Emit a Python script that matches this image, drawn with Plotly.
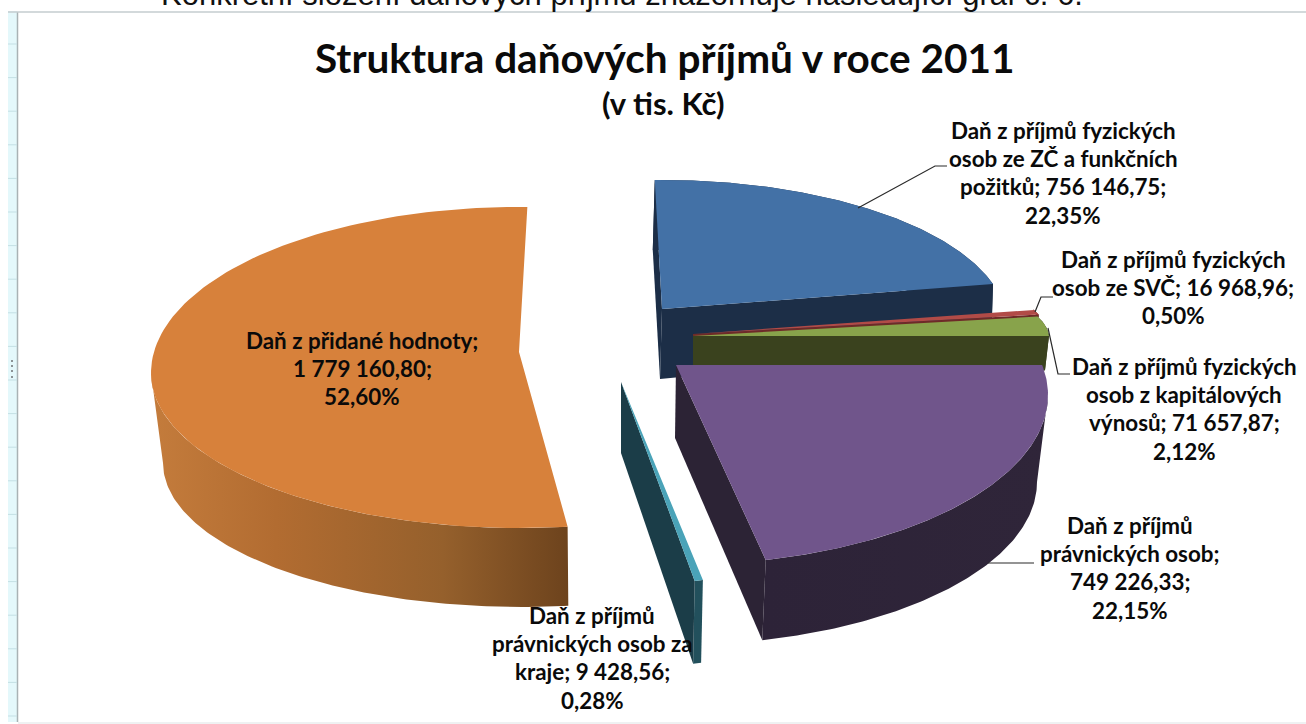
import numpy as np
import plotly.graph_objects as go

# ---- data ----
names = ["Daň z příjmů fyzických osob ze ZČ a funkčních požitků",
         "Daň z příjmů fyzických osob ze SVČ",
         "Daň z příjmů fyzických osob z kapitálových výnosů",
         "Daň z příjmů právnických osob",
         "Daň z příjmů právnických osob za kraje",
         "Daň z přidané hodnoty"]
values = [756146.75, 16968.96, 71657.87, 749226.33, 9428.56, 1779160.80]
value_labels = ["756 146,75", "16 968,96", "71 657,87", "749 226,33", "9 428,56", "1 779 160,80"]
percent_labels = ["22,35%", "0,50%", "2,12%", "22,15%", "0,28%", "52,60%"]

title_text = "Struktura daňových příjmů v roce 2011"
subtitle_text = "(v tis. Kč)"
page_text = "Konkrétní složení daňových příjmů znázorňuje následující graf č. 6."

label_lines = [
    ["Daň z příjmů fyzických", "osob ze ZČ a funkčních", "požitků; 756 146,75;", "22,35%"],
    ["Daň z příjmů fyzických", "osob ze SVČ; 16 968,96;", "0,50%"],
    ["Daň z příjmů fyzických", "osob z kapitálových", "výnosů; 71 657,87;", "2,12%"],
    ["Daň z příjmů", "právnických osob;", "749 226,33;", "22,15%"],
    ["Daň z příjmů", "právnických osob za", "kraje; 9 428,56;", "0,28%"],
    ["Daň z přidané hodnoty;", "1 779 160,80;", "52,60%"],
]

# ---- layout of the exploded, tilted pie (pixels of the picture) ----
label_xy = [(1063, 130), (1173, 259), (1184, 366), (1130, 525), (592, 615), (362, 340)]
# top ellipse: apex x,y, centre y, rx, ry (near side), ry (far side)
top_geo = [(662, 309, 325, 345, 145, 145), (693, 334, 334, 354, 90, 90), (693, 336, 337.4, 356, 83, 83),
           (676, 365, 395, 372, 170, 170), (621, 382, 382, 370, 203, 203), (519, 352, 373, 368, 155, 166)]
# bottom ellipse: apex x,y, centre y, rx, ry
bot_geo = [(660, 379, 385, 345, 135), (693, 337, 337, 354, 90), (693, 372, 372, 352, 83),
           (675, 438, 482, 362, 163), (621, 453, 453, 362, 215), (521, 463, 463, 358, 144)]
# projected start/end corrections of the angle (degrees)
angle_adj = [(-1.2, -6.86), (-6.46, -4.76), (-7.26, -0.89), (-10.1, -3.6), (-2.43, -2.14), (1.76, 1.3)]
# projected angle range in which the outer wall is visible (None = whole arc)
wall_start = [None, None, None, 90, None, None]
wall_end = [None, None, None, None, None, 270]
top_col = ["#4371a6", "#b14b47", "#88a34b", "#70558b", "#4aa3b8", "#d7813b"]
cut_col = ["#1c2e47", "#6e2a28", "#3a421e", "#2c2335", "#1b3d48", "#d7813b"]
wall_grad = [None, None, None, [[0, "#2d2338"], [1, "#2f2539"]], None,
             [[0, "#c47c3c"], [0.3, "#b26c31"], [0.7, "#95602c"], [1, "#6d431d"]]]
wall_col = ["#1c2e47", "#6e2a28", "#3a421e", "#34293f", "#22505c", "#b06a30"]
cut_t0_visible = [True, False, False, False, False, False]
draw_order = [5, 0, 1, 2, 4, 3]

total = sum(values)
edges = np.concatenate([[0], np.cumsum(values)]) / total * 360

fig = go.Figure()


def top_pt(i, t):
    ax, ay, yc, rx, ryn, ryf = top_geo[i]
    c = np.cos(np.radians(t))
    return ax + rx * np.sin(np.radians(t)), yc - np.where(c > 0, ryf, ryn) * c


def bot_pt(i, t):
    ax, ay, yc, rx, ry = bot_geo[i]
    return ax + rx * np.sin(np.radians(t)), yc - ry * np.cos(np.radians(t))


def poly(xs, ys, color=None, grad=None, lo=0, hi=1):
    kw = dict(x=list(xs), y=list(ys), mode="lines", fill="toself", line=dict(width=0),
              hoverinfo="skip", showlegend=False)
    if grad:
        kw["fillgradient"] = dict(type="horizontal", colorscale=grad, start=lo, stop=hi)
    else:
        kw["fillcolor"] = color
    fig.add_trace(go.Scatter(**kw))


for i in draw_order:
    t0 = edges[i] + angle_adj[i][0]
    t1 = edges[i + 1] + angle_adj[i][1]
    ts = np.linspace(t0, t1, 120)
    xt, yt = top_pt(i, ts)
    xb, yb = bot_pt(i, ts)
    ax, ay = top_geo[i][:2]
    bx, by = bot_geo[i][:2]
    # outer wall
    tw = np.linspace(wall_start[i] if wall_start[i] else t0, wall_end[i] if wall_end[i] else t1, 120)
    xwt, ywt = top_pt(i, tw)
    xwb, ywb = bot_pt(i, tw)
    wx = np.concatenate([xwt, xwb[::-1]])
    wy = np.concatenate([ywt, ywb[::-1]])
    poly(wx, wy, wall_col[i], wall_grad[i], float(wx.min()), float(wx.max()))
    # cut faces
    if cut_t0_visible[i]:
        poly([xt[0], ax, bx, xb[0]], [yt[0], ay, by, yb[0]], cut_col[i])
    if i != 5:
        poly([ax, xt[-1], xb[-1], bx], [ay, yt[-1], yb[-1], by], cut_col[i])
    # top face
    poly(np.concatenate([[ax], xt]), np.concatenate([[ay], yt]), top_col[i])

# leader lines
leaders = [([858, 935, 947], [208, 166, 166]), ([1035, 1041, 1053], [312, 297, 297]),
           ([1048, 1058, 1070], [328, 374, 374]), ([988, 1034], [563, 563])]
for lx, ly in leaders:
    fig.add_trace(go.Scatter(x=lx, y=ly, mode="lines", line=dict(color="#2a2a2a", width=1.2),
                             hoverinfo="skip", showlegend=False))

annotations = []
LABEL = dict(family="Lato", size=22.4, color="#0a0a0a", weight="bold")
for (cx, y0), lines in zip(label_xy, label_lines):
    for k, ln in enumerate(lines):
        annotations.append(dict(x=cx, y=y0 + k * 28.4, text=ln, showarrow=False, xanchor="center",
                                yanchor="middle", font=LABEL))
annotations.append(dict(x=664, y=57, text=title_text, showarrow=False, xanchor="center", yanchor="middle",
                        font=dict(family="Lato", size=40.5, color="#0a0a0a", weight="bold")))
annotations.append(dict(x=663, y=103, text=subtitle_text, showarrow=False, xanchor="center", yanchor="middle",
                        font=dict(family="Lato", size=31, color="#0a0a0a", weight="bold")))
annotations.append(dict(x=622, y=13, text=page_text, showarrow=False, xanchor="center", yanchor="bottom",
                        borderpad=0, font=dict(family="Liberation Sans", size=31, color="#111111")))

# window frame
shapes = [
    dict(type="rect", x0=8, x1=17, y0=11, y1=722, fillcolor="#e4f8fb", line=dict(width=0), layer="below"),
    dict(type="line", x0=17.5, x1=17.5, y0=12, y1=722, line=dict(color="#a9b2b5", width=1.5), layer="below"),
    dict(type="line", x0=8, x1=1306, y0=12, y1=12, line=dict(color="#c4cccf", width=1.5), layer="below"),
    dict(type="line", x0=18, x1=1306, y0=723, y1=723, line=dict(color="#dfe3e5", width=1), layer="below"),
]
for yy in np.arange(44, 722, 33.6):
    shapes.append(dict(type="line", x0=8, x1=17, y0=yy, y1=yy, line=dict(color="#c4dfe4", width=1), layer="below"))
for yy in (360, 365, 370, 376):
    shapes.append(dict(type="rect", x0=11, x1=13, y0=yy, y1=yy + 2, fillcolor="#8c9396", line=dict(width=0), layer="below"))

fig.update_layout(
    width=1306, height=724, margin=dict(l=0, r=0, t=0, b=0),
    paper_bgcolor="white", plot_bgcolor="white", showlegend=False,
    xaxis=dict(range=[0, 1306], visible=False, fixedrange=True),
    yaxis=dict(range=[724, 0], visible=False, fixedrange=True),
    annotations=annotations, shapes=shapes,
)
fig.write_html("out.html", config=dict(displayModeBar=False),
               post_script="document.body.style.margin='0';document.body.style.overflow='hidden';")
